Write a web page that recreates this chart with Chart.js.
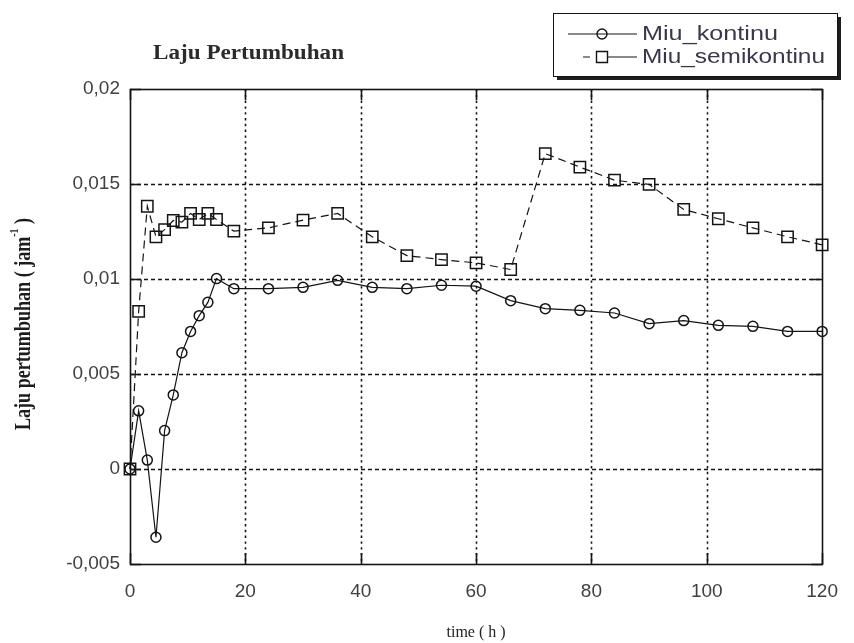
<!DOCTYPE html>
<html>
<head>
<meta charset="utf-8">
<script src="https://cdn.jsdelivr.net/npm/chart.js@4/dist/chart.umd.min.js"></script>
<style>
  html, body { margin: 0; padding: 0; background: #ffffff; }
  canvas { display: block; }
</style>
</head>
<body>
<canvas id="chart" width="854" height="643"></canvas>
<script>
// Sampling times (hours)
const timeHours = [0, 1.5, 3, 4.5, 6, 7.5, 9, 10.5, 12, 13.5, 15, 18, 24, 30, 36, 42, 48, 54, 60,
                   66, 72, 78, 84, 90, 96, 102, 108, 114, 120];

// Specific growth rate, continuous culture (1/h)
const miuKontinu = [0, 0.00306, 0.00047, -0.00359, 0.00202, 0.00390, 0.00612, 0.00724, 0.00807,
                    0.00877, 0.01002, 0.00949, 0.00949, 0.00956, 0.00993, 0.00956, 0.00949, 0.00967,
                    0.00962, 0.00886, 0.00844, 0.00835, 0.00821, 0.00765, 0.00781, 0.00756, 0.00751,
                    0.00724, 0.00724];

// Specific growth rate, semi-continuous culture (1/h)
const miuSemikontinu = [0, 0.00830, 0.01383, 0.01222, 0.01260, 0.01308, 0.01299, 0.01345, 0.01313,
                        0.01345, 0.01313, 0.01252, 0.01269, 0.01310, 0.01345, 0.01222, 0.01123,
                        0.01102, 0.01085, 0.01050, 0.01660, 0.01589, 0.01520, 0.01498, 0.01366,
                        0.01317, 0.01269, 0.01222, 0.01180];

const seriesNames = ['Miu_kontinu', 'Miu_semikontinu'];

const xTicks = [0, 20, 40, 60, 80, 100, 120];
const xTickLabels = ['0', '20', '40', '60', '80', '100', '120'];
const yTicks = [-0.005, 0, 0.005, 0.01, 0.015, 0.02];
const yTickLabels = ['-0,005', '0', '0,005', '0,01', '0,015', '0,02'];

const chartTitle = 'Laju Pertumbuhan';
const xAxisTitle = 'time ( h )';
const yAxisTitle = ['Laju pertumbuhan ( jam', '-1', ' )'];

const toPoints = (xs, ys) => xs.map((x, i) => ({ x: x, y: ys[i] }));

const INK = '#141414';

// Dotted/dashed grid, inward tick marks and the plot frame
const framePlugin = {
  id: 'frame',
  beforeDatasetsDraw(chart) {
    const { ctx, chartArea: a, scales: { x, y } } = chart;
    ctx.save();
    ctx.strokeStyle = INK;
    ctx.lineWidth = 1.6;
    // vertical dotted grid lines
    ctx.setLineDash([2.4, 3.4]);
    xTicks.slice(1, -1).forEach(v => {
      const px = Math.round(x.getPixelForValue(v)) + 0.5;
      ctx.beginPath(); ctx.moveTo(px, a.top); ctx.lineTo(px, a.bottom); ctx.stroke();
    });
    // horizontal dashed grid lines
    ctx.setLineDash([4, 3]);
    yTicks.slice(1, -1).forEach(v => {
      const py = Math.round(y.getPixelForValue(v)) + 0.5;
      ctx.beginPath(); ctx.moveTo(a.left, py); ctx.lineTo(a.right, py); ctx.stroke();
    });
    // inward solid tick marks on all four sides
    ctx.setLineDash([]);
    const tl = 11;
    xTicks.forEach(v => {
      const px = Math.round(x.getPixelForValue(v)) + 0.5;
      ctx.beginPath();
      ctx.moveTo(px, a.bottom); ctx.lineTo(px, a.bottom - tl);
      ctx.moveTo(px, a.top); ctx.lineTo(px, a.top + tl);
      ctx.stroke();
    });
    yTicks.forEach(v => {
      const py = Math.round(y.getPixelForValue(v)) + 0.5;
      ctx.beginPath();
      ctx.moveTo(a.left, py); ctx.lineTo(a.left + tl, py);
      ctx.moveTo(a.right, py); ctx.lineTo(a.right - tl, py);
      ctx.stroke();
    });
    // frame
    ctx.lineWidth = 1.6;
    ctx.strokeRect(Math.round(a.left) + 0.5, Math.round(a.top) + 0.5,
                   Math.round(a.right - a.left), Math.round(a.bottom - a.top));
    ctx.restore();
  }
};

// Draw text horizontally fitted to a given width
function fitText(ctx, text, x, y, width) {
  const w = ctx.measureText(text).width;
  ctx.save();
  ctx.translate(x, y);
  ctx.scale(width / w, 1);
  ctx.fillText(text, 0, 0);
  ctx.restore();
}

function drawMarker(ctx, style, cx, cy) {
  ctx.beginPath();
  if (style === 'rect') {
    ctx.rect(cx - 5.5, cy - 5.5, 11, 11);
  } else {
    ctx.arc(cx, cy, 5, 0, Math.PI * 2);
  }
  ctx.stroke();
}

// Titles and legend box
const textPlugin = {
  id: 'texts',
  afterDraw(chart) {
    const { ctx, chartArea: a } = chart;
    ctx.save();

    // chart title
    ctx.fillStyle = '#2b2b2b';
    ctx.font = 'bold 20px "Liberation Serif"';
    ctx.textBaseline = 'middle';
    ctx.textAlign = 'left';
    fitText(ctx, chartTitle, 153, 54, 191);

    // x axis title
    ctx.fillStyle = '#222';
    ctx.font = '16px "Liberation Serif"';
    ctx.textAlign = 'center';
    ctx.fillText(xAxisTitle, (a.left + a.right) / 2, 633);

    // y axis title (rotated, with superscript)
    ctx.save();
    ctx.translate(23, 324);
    ctx.rotate(-Math.PI / 2);
    ctx.textAlign = 'left';
    ctx.textBaseline = 'middle';
    ctx.fillStyle = '#1c1c1c';
    const mainFont = 'bold 24px "Liberation Serif"';
    const supFont = 'bold 13px "Liberation Serif"';
    ctx.font = mainFont;
    const w1 = ctx.measureText(yAxisTitle[0]).width;
    const w3 = ctx.measureText(yAxisTitle[2]).width;
    ctx.font = supFont;
    const w2 = ctx.measureText(yAxisTitle[1]).width;
    const total = w1 + w2 + w3;
    ctx.scale(212 / total, 1);
    let cx = -total / 2;
    ctx.font = mainFont;
    ctx.fillText(yAxisTitle[0], cx, 1); cx += w1;
    ctx.font = supFont;
    ctx.fillText(yAxisTitle[1], cx, -8); cx += w2;
    ctx.font = mainFont;
    ctx.fillText(yAxisTitle[2], cx, 1);
    ctx.restore();

    // legend box with drop shadow
    const lg = { x: 553, y: 13, w: 284, h: 63 };
    ctx.fillStyle = '#1e1e1e';
    ctx.fillRect(lg.x + 4, lg.y + 4, lg.w, lg.h);
    ctx.fillStyle = '#ffffff';
    ctx.fillRect(lg.x, lg.y, lg.w, lg.h);
    ctx.strokeStyle = INK;
    ctx.lineWidth = 1;
    ctx.strokeRect(lg.x + 0.5, lg.y + 0.5, lg.w, lg.h);

    const rows = [34, 57];
    chart.data.datasets.forEach((ds, i) => {
      const yy = rows[i];
      ctx.strokeStyle = INK;
      ctx.lineWidth = 1.2;
      ctx.setLineDash([]);
      ctx.beginPath();
      if (ds.borderDash && ds.borderDash.length) {
        ctx.moveTo(583, yy); ctx.lineTo(590, yy);
        ctx.moveTo(608, yy); ctx.lineTo(637, yy);
      } else {
        ctx.moveTo(568, yy); ctx.lineTo(637, yy);
      }
      ctx.stroke();
      ctx.lineWidth = 1.4;
      drawMarker(ctx, ds.pointStyle, 602, yy);
      ctx.fillStyle = '#3a3848';
      ctx.font = '20px "Liberation Sans"';
      ctx.textAlign = 'left';
      ctx.textBaseline = 'middle';
      const target = i === 0 ? 136 : 183;
      fitText(ctx, ds.label, 642, yy, target);
    });
    ctx.restore();
  }
};

const tickFont = { family: 'Liberation Sans', size: 19 };

new Chart(document.getElementById('chart'), {
  type: 'line',
  data: {
    datasets: [
      {
        label: seriesNames[0],
        data: toPoints(timeHours, miuKontinu),
        borderColor: INK,
        borderWidth: 1.2,
        pointStyle: 'circle',
        pointRadius: 5,
        pointBorderWidth: 1.5,
        pointBorderColor: INK,
        pointBackgroundColor: 'rgba(0,0,0,0)',
        tension: 0,
        clip: false
      },
      {
        label: seriesNames[1],
        data: toPoints(timeHours, miuSemikontinu),
        borderColor: INK,
        borderWidth: 1.2,
        borderDash: [8, 5],
        pointStyle: 'rect',
        pointRadius: 8,
        pointBorderWidth: 1.5,
        pointBorderColor: INK,
        pointBackgroundColor: 'rgba(0,0,0,0)',
        tension: 0,
        clip: false
      }
    ]
  },
  options: {
    responsive: false,
    animation: false,
    devicePixelRatio: 1,
    layout: { padding: { top: 89, right: 21, bottom: 0, left: 0 } },
    plugins: {
      legend: { display: false },
      title: { display: false },
      tooltip: { enabled: false }
    },
    scales: {
      x: {
        type: 'linear',
        min: 0,
        max: 120,
        grid: { display: false, drawTicks: false },
        border: { display: false },
        afterBuildTicks: s => { s.ticks = xTicks.map(v => ({ value: v })); },
        afterFit: s => { s.height = 79; },
        ticks: {
          font: tickFont,
          color: '#404040',
          padding: 16,
          maxRotation: 0,
          autoSkip: false,
          callback: (v, i) => xTickLabels[i]
        }
      },
      y: {
        type: 'linear',
        min: -0.005,
        max: 0.02,
        grid: { display: false, drawTicks: false },
        border: { display: false },
        afterBuildTicks: s => { s.ticks = yTicks.map(v => ({ value: v })); },
        afterFit: s => { s.width = 130; },
        ticks: {
          font: tickFont,
          color: '#404040',
          padding: 10,
          autoSkip: false,
          callback: (v, i) => yTickLabels[i]
        }
      }
    }
  },
  plugins: [framePlugin, textPlugin]
});
</script>
</body>
</html>
